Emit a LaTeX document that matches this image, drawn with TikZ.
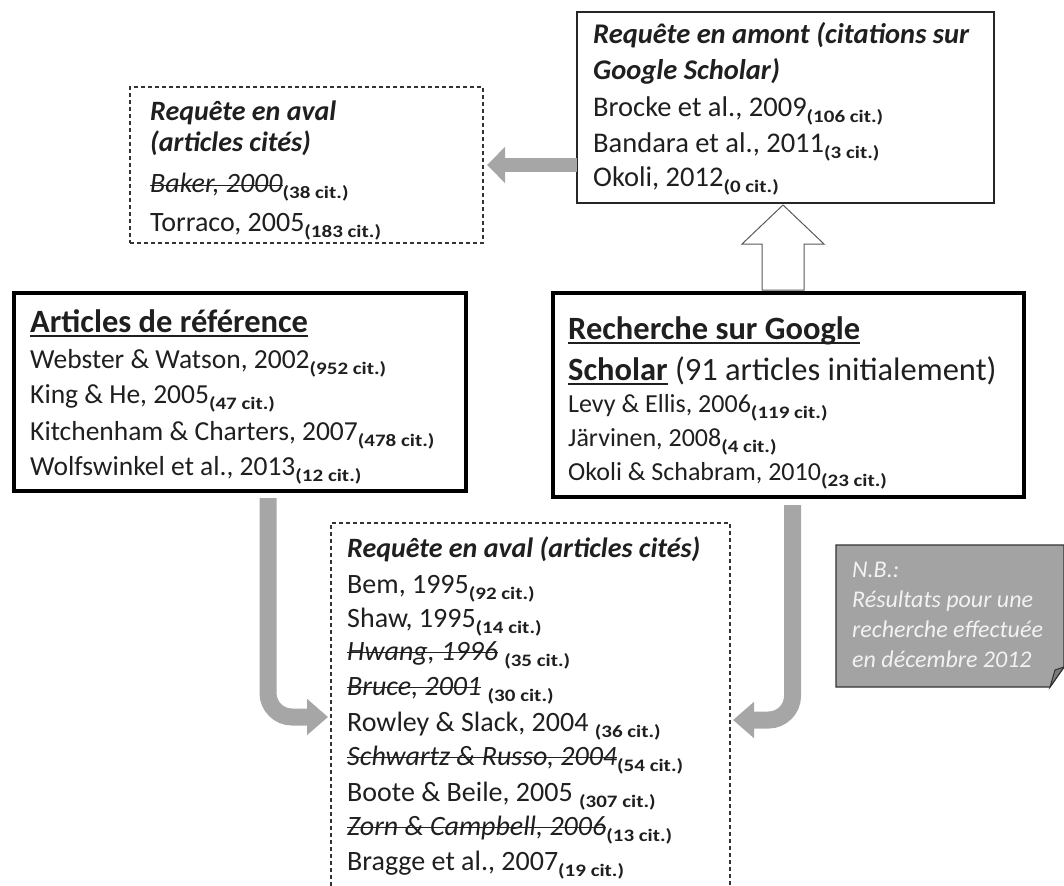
\documentclass[tikz,border=0pt]{standalone}
\usepackage{fontspec}
\setmainfont{Carlito}
\newfontfamily\subf[FakeStretch=1.2]{Carlito}
\usetikzlibrary{arrows.meta,calc}
\definecolor{agray}{HTML}{A6A6A6}
\definecolor{txtc}{HTML}{1F1F1F}
\definecolor{nbfill}{HTML}{A3A3A3}
\definecolor{nbfold}{HTML}{7A7A7A}
\definecolor{nbtext}{HTML}{F2F2F2}
\definecolor{hollow}{HTML}{5A5A5A}
\newcommand{\setfs}[1]{\fontsize{#1}{#1}\selectfont}
\newcommand{\ct}[1]{\raisebox{-6pt}{\subf\bfseries\fontsize{17.5}{18}\selectfont(#1 cit.)}}
\newsavebox{\myln}
\newcommand{\strk}[1]{{\itshape\sbox{\myln}{#1}\rlap{\rule[0.24em]{\wd\myln}{1.4pt}}\usebox{\myln}}}
\newcommand{\uln}[1]{{\sbox{\myln}{#1}\rlap{\rule[-4.5pt]{\wd\myln}{1.5pt}}\usebox{\myln}}}
\tikzset{
  ln/.style={anchor=base west, inner sep=0pt, text=txtc},
  boxbase/.style={rectangle, anchor=north west, inner sep=0pt, outer sep=0pt},
  thickbox/.style={boxbase, draw=black, line width=4.5pt},
  thinbox/.style={boxbase, draw=black!85, line width=1.3pt},
  dashbox/.style={draw=black!80, line width=1.2pt, dash pattern=on 4pt off 3pt},
  garrow/.style={draw=agray, line width=17pt, -{Triangle[width=35pt,length=21pt]}},
}
\begin{document}
\begin{tikzpicture}[x=1pt,y=-1pt]
\useasboundingbox (0,0) rectangle (1064,885);

% boxes
\node[boxbase, dashbox, draw, minimum width=353pt, minimum height=156pt] (tl) at (130,87) {};
\node[thinbox, minimum width=417pt, minimum height=191pt] (tr) at (577,12) {};
\node[thickbox, minimum width=452pt, minimum height=198pt] (art) at (14,293) {};
\node[thickbox, minimum width=471pt, minimum height=204pt] (rech) at (553,293) {};
\node[boxbase, minimum width=399pt, minimum height=370pt] (bot) at (331,523) {};
\draw[dashbox] (bot.south west) -- (bot.north west) -- (bot.north east) -- (bot.south east);
\node[boxbase, minimum width=228pt, minimum height=142pt] (nb) at (836,545) {};
\filldraw[fill=nbfill, draw=black!80, line width=1.3pt]
  (nb.north west) -- (nb.north east) -- ($(nb.south east)+(0,-20)$)
  -- ($(nb.south east)+(-14,0)$) -- (nb.south west) -- cycle;
\filldraw[fill=nbfold, draw=black!80, line width=1pt]
  ($(nb.south east)+(-14,0)$) -- ($(nb.south east)+(-9,-17)$) -- ($(nb.south east)+(0,-20)$) -- cycle;

% arrows
\draw[garrow, line width=14pt, -{Triangle[width=35pt,length=18pt]}]
  (tl.east -| tr.west) -- ([xshift=4pt]tl.east);
\coordinate (ha) at ($(tr.south)+(-2.5,2)$);
\filldraw[fill=white, draw=hollow, line width=1pt]
  (ha) -- ++(41,39) -- ++(-20,0) -- ++(0,46) -- ++(-42,0) -- ++(0,-46) -- ++(-20,0) -- cycle;
\draw[garrow, rounded corners=24pt]
  ([xshift=28pt,yshift=-7pt]art.south) |- ([xshift=-3pt]bot.west |- 0,717);
\draw[garrow, rounded corners=24pt]
  ([xshift=4pt,yshift=-8pt]rech.south) |- ([xshift=3pt]bot.east |- 0,720);

% top-left text
\node[ln, font={\setfs{28}\bfseries\itshape}] (tl1) at (150,121) {Requête en aval};
\node[ln, font={\setfs{28}\bfseries\itshape}] (tl2) at (150,152) {(articles cités)};
\node[ln, font={\setfs{28}}] (tl3) at (150,193) {\strk{Baker, 2000}\ct{38}};
\node[ln, font={\setfs{28}}] (tl4) at (150,231) {Torraco, 2005\ct{183}};

% top-right text
\node[ln, font={\setfs{28.5}\bfseries\itshape}] (tr1) at (593,44) {Requête en amont (citations sur};
\node[ln, font={\setfs{28.5}\bfseries\itshape}] (tr2) at (593,80) {Google Scholar)};
\node[ln, font={\setfs{28.5}}] (tr3) at (593,117) {Brocke et al., 2009\ct{106}};
\node[ln, font={\setfs{28.5}}] (tr4) at (593,153) {Bandara et al., 2011\ct{3}};
\node[ln, font={\setfs{28.5}}] (tr5) at (593,187) {Okoli, 2012\ct{0}};

% articles de reference
\node[ln, font={\setfs{32.5}\bfseries}] (ar1) at (30,332) {\uln{Articles de référence}};
\node[ln, font={\setfs{27.5}}] (ar2) at (30,368) {Webster \& Watson, 2002\ct{952}};
\node[ln, font={\setfs{27.5}}] (ar3) at (30,403) {King \& He, 2005\ct{47}};
\node[ln, font={\setfs{27.5}}] (ar4) at (30,440) {Kitchenham \& Charters, 2007\ct{478}};
\node[ln, font={\setfs{27.5}}] (ar5) at (30,475) {Wolfswinkel et al., 2013\ct{12}};

% recherche google scholar
\node[ln, font={\setfs{32.5}\bfseries}] (re1) at (568,339) {\uln{Recherche sur Google}};
\node[ln, font={\setfs{32.5}}] (re2) at (568,380) {\textbf{\uln{Scholar}} (91 articles initialement)};
\node[ln, font={\setfs{26}}] (re3) at (568,412) {Levy \& Ellis, 2006\ct{119}};
\node[ln, font={\setfs{26}}] (re4) at (568,446) {Järvinen, 2008\ct{4}};
\node[ln, font={\setfs{26}}] (re5) at (568,480) {Okoli \& Schabram, 2010\ct{23}};

% bottom box
\node[ln, font={\setfs{28}\bfseries\itshape}] (bo1) at (347,557) {Requête en aval (articles cités)};
\node[ln, font={\setfs{28}}] (bo2) at (347,593) {Bem, 1995\ct{92}};
\node[ln, font={\setfs{28}}] (bo3) at (347,627) {Shaw, 1995\ct{14}};
\node[ln, font={\setfs{28}}] (bo4) at (347,660) {\strk{Hwang, 1996} \ct{35}};
\node[ln, font={\setfs{28}}] (bo5) at (347,695) {\strk{Bruce, 2001} \ct{30}};
\node[ln, font={\setfs{28}}] (bo6) at (347,731) {Rowley \& Slack, 2004 \ct{36}};
\node[ln, font={\setfs{28}}] (bo7) at (347,765) {\strk{Schwartz \& Russo, 2004}\ct{54}};
\node[ln, font={\setfs{28}}] (bo8) at (347,801) {Boote \& Beile, 2005 \ct{307}};
\node[ln, font={\setfs{28}}] (bo9) at (347,835) {\strk{Zorn \& Campbell, 2006}\ct{13}};
\node[ln, font={\setfs{28}}] (bo10) at (347,870) {Bragge et al., 2007\ct{19}};

% N.B. note
\node[ln, text=nbtext, font={\setfs{24}\itshape}] (nb1) at (852,577) {N.B.:};
\node[ln, text=nbtext, font={\setfs{24}\itshape}] (nb2) at (852,607) {Résultats pour une};
\node[ln, text=nbtext, font={\setfs{24}\itshape}] (nb3) at (852,637) {recherche effectuée};
\node[ln, text=nbtext, font={\setfs{24}\itshape}] (nb4) at (852,667) {en décembre 2012};
\end{tikzpicture}
\end{document}
